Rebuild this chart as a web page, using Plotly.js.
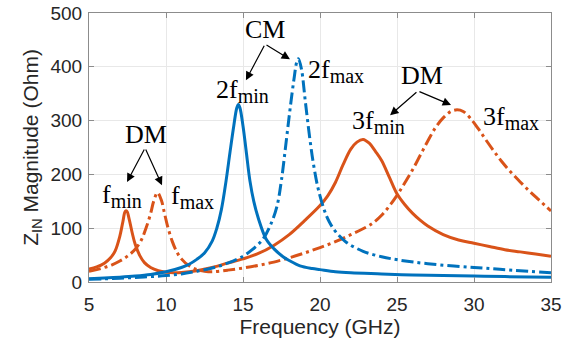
<!DOCTYPE html>
<html>
<head>
<meta charset="utf-8">
<script src="https://cdn.plot.ly/plotly-3.0.1.min.js"></script>
<style>html,body{margin:0;padding:0;background:#fff;}#chart{width:563px;height:349px;}</style>
</head>
<body>
<div id="chart"></div>
<script>
// DM, f_min (orange solid)
const dmMinFreq = [5, 5.5, 6, 6.4, 6.7, 7.0, 7.2, 7.35, 7.45, 7.6, 7.8, 8.0, 8.3, 8.6, 9.0, 9.5, 10, 10.5, 11, 12, 13, 14, 15, 16, 17, 18, 19, 20, 20.5, 21, 21.5, 22, 22.4, 22.8, 23.2, 23.6, 24, 24.5, 25, 25.5, 26, 26.5, 27, 28, 29, 30, 31, 32, 33, 34, 35];
const dmMinZ    = [24, 28, 35, 45, 58, 85, 112, 131, 132, 118, 92, 70, 49, 36, 27, 21, 18, 17, 17.5, 21, 27, 35, 43, 53, 68, 88, 114, 142, 160, 185, 218, 247, 260, 265, 258, 243, 226, 195, 164, 144, 128, 115, 104, 88, 78, 72, 66, 60, 56, 52, 48];
// DM, f_max (orange dash-dot)
const dmMaxFreq = [5, 5.5, 6, 6.5, 7, 7.5, 8, 8.4, 8.7, 9.0, 9.2, 9.45, 9.7, 9.9, 10.1, 10.4, 10.7, 11, 11.5, 12, 12.5, 13, 14, 15, 16, 17, 18, 19, 20, 21, 22, 23, 23.5, 24, 24.5, 25, 25.5, 26, 26.5, 27, 27.5, 28, 28.5, 28.9, 29.3, 29.8, 30.3, 30.8, 31.3, 31.8, 32.4, 33, 33.6, 34.2, 35];
const dmMaxZ    = [20, 23, 27, 32, 39, 48, 61, 78, 100, 127, 150, 166, 152, 128, 104, 76, 56, 43, 30, 23, 20, 19, 22, 26, 31, 37, 45, 54, 64, 75, 88, 102, 111, 124, 141, 161, 184, 208, 235, 262, 287, 305, 317, 320, 317, 303, 284, 263, 243, 224, 204, 186, 169, 153, 132];
// CM, 2f_min (blue solid)
const cmMinFreq = [5, 6, 7, 8, 9, 10, 11, 11.5, 12, 12.5, 13, 13.3, 13.6, 13.9, 14.15, 14.4, 14.6, 14.7, 14.8, 15.0, 15.2, 15.45, 15.7, 16.0, 16.5, 17, 17.6, 18, 18.7, 19.5, 20, 21, 22, 24, 26, 28, 30, 32, 35];
const cmMinZ    = [6, 7.5, 9, 11, 14, 19, 27, 33, 42, 54, 76, 100, 135, 188, 240, 290, 324, 330, 324, 290, 245, 188, 150, 118, 80, 62, 47, 40, 30, 25, 23, 19, 17, 15, 13, 12, 11, 10, 9];
// CM, 2f_max (blue dash-dot)
const cmMaxFreq = [5, 6, 7, 8, 9, 10, 11, 12, 13, 14, 15, 15.6, 16.3, 16.8, 17.2, 17.5, 17.8, 18.05, 18.3, 18.5, 18.6, 18.8, 19.05, 19.35, 19.6, 19.9, 20.3, 20.6, 21, 21.7, 22.8, 24, 25.1, 27, 30, 32.5, 35];
const cmMaxZ    = [5, 6, 7, 8.5, 10, 12, 15, 20, 26, 35, 48, 60, 80, 107, 140, 190, 260, 320, 375, 410, 415, 395, 335, 264, 215, 171, 132, 112, 94, 74, 57, 47, 41, 34, 27, 22, 17];

const xTicks = [5, 10, 15, 20, 25, 30, 35];
const yTicks = [0, 100, 200, 300, 400, 500];

const orange = '#D95319', blue = '#0072BD';
const dashdot = '12px,4px,3px,4px';

const traces = [
  {x: dmMinFreq, y: dmMinZ, mode: 'lines', line: {color: orange, width: 3, shape: 'spline', smoothing: 1}},
  {x: dmMaxFreq, y: dmMaxZ, mode: 'lines', line: {color: orange, width: 3, dash: dashdot, shape: 'spline', smoothing: 1}},
  {x: cmMinFreq, y: cmMinZ, mode: 'lines', line: {color: blue, width: 3, shape: 'spline', smoothing: 1}},
  {x: cmMaxFreq, y: cmMaxZ, mode: 'lines', line: {color: blue, width: 3, dash: dashdot, shape: 'spline', smoothing: 1}}
];

const serif = {family: 'Liberation Serif, Times New Roman, serif', size: 26, color: '#000'};
function sub(s) { return '<sub><span style="font-size:20px">' + s + '</span></sub>'; }
function label(x, y, text) {
  return {x: x, y: y, xref: 'x', yref: 'y', text: text, showarrow: false, font: serif, xanchor: 'center', yanchor: 'middle'};
}
function arrow(tx, ty, hx, hy) {
  return {x: hx, y: hy, ax: tx, ay: ty, xref: 'x', yref: 'y', axref: 'x', ayref: 'y', text: '',
          showarrow: true, arrowhead: 2, arrowsize: 1.4, arrowwidth: 1.2, arrowcolor: '#000', standoff: 0, startstandoff: 0};
}

const annotations = [
  label(8.70, 275, 'DM'),
  arrow(8.64, 249, 7.47, 186),
  arrow(8.64, 249, 9.74, 180),
  label(7.14, 160, 'f' + sub('min')),
  label(11.69, 158, 'f' + sub('max')),
  label(16.43, 470, 'CM'),
  arrow(16.43, 442, 15.19, 375),
  arrow(16.43, 442, 18.05, 414),
  label(14.94, 355, '2f' + sub('min')),
  label(21.04, 392, '2f' + sub('max')),
  label(26.62, 383, 'DM'),
  arrow(26.36, 355, 24.55, 310),
  arrow(26.36, 355, 28.51, 329),
  label(23.77, 297, '3f' + sub('min')),
  label(32.40, 305, '3f' + sub('max'))
];

const tickFont = {family: 'Liberation Sans, Arial, sans-serif', size: 19, color: '#262626'};
const titleFont = {family: 'Liberation Sans, Arial, sans-serif', size: 21, color: '#262626'};

const layout = {
  width: 563, height: 349,
  margin: {l: 89, r: 12, t: 13, b: 67},
  paper_bgcolor: '#fff', plot_bgcolor: '#fff',
  showlegend: false,
  font: tickFont,
  xaxis: {
    range: [5, 35], tickvals: xTicks, ticktext: xTicks.map(String),
    showgrid: true, gridcolor: '#e8e8e8', gridwidth: 1,
    zeroline: false, showline: true, linecolor: '#8c8c8c', linewidth: 1, mirror: 'ticks',
    ticks: 'inside', ticklen: 5, tickcolor: '#8c8c8c', ticklabelstandoff: 5,
    tickfont: tickFont,
    title: {text: 'Frequency (GHz)', font: titleFont, standoff: 5}
  },
  yaxis: {
    range: [0, 500], tickvals: yTicks, ticktext: yTicks.map(String),
    showgrid: true, gridcolor: '#e8e8e8', gridwidth: 1,
    zeroline: false, showline: true, linecolor: '#8c8c8c', linewidth: 1, mirror: 'ticks',
    ticks: 'inside', ticklen: 5, tickcolor: '#8c8c8c', ticklabelstandoff: 2,
    tickfont: tickFont,
    title: {text: 'Z<sub>IN</sub> Magnitude (Ohm)', font: titleFont, standoff: 6}
  },
  annotations: annotations
};

Plotly.newPlot('chart', traces, layout, {displayModeBar: false, staticPlot: true});
</script>
</body>
</html>
